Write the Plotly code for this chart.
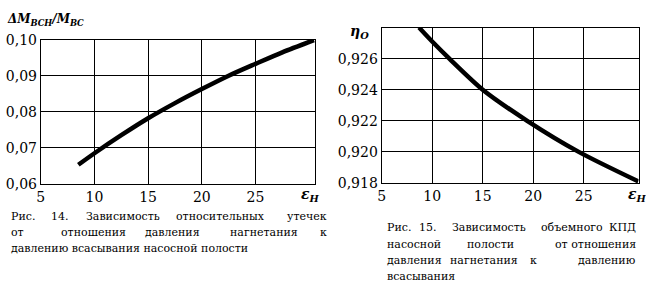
import plotly.graph_objects as go

W, H = 646, 294

# ---- data ----
eps_left = [8.5, 10, 12.5, 15, 17.5, 20, 22.5, 25, 27.5, 30.45]
leak_ratio = [0.0653, 0.0685, 0.0735, 0.0782, 0.0824, 0.0863, 0.0900, 0.0933, 0.0965, 0.0999]

eps_right = [8.7, 10, 11.7, 15, 19.4, 24.5, 30.4]
eta_o = [0.9280, 0.9271, 0.9260, 0.9240, 0.9220, 0.9200, 0.9181]

x_tickvals = [5, 10, 15, 20, 25]
x_ticktext = ["5", "10", "15", "20", "25"]
left_y_tickvals = [0.06, 0.07, 0.08, 0.09, 0.10]
left_y_ticktext = ["0,06", "0,07", "0,08", "0,09", "0,10"]
right_y_tickvals = [0.918, 0.920, 0.922, 0.924, 0.926]
right_y_ticktext = ["0,918", "0,920", "0,922", "0,924", "0,926"]

left_caption = [
    ["Рис.", "14.", "Зависимость", "относительных", "утечек"],
    ["от", "отношения", "давления", "нагнетания", "к"],
    ["давлению всасывания насосной полости"],
]
right_caption = [
    ["Рис.", "15.", "Зависимость", "объемного", "КПД"],
    ["насосной", "полости", "от отношения"],
    ["давления", "нагнетания", "к", "давлению"],
    ["всасывания"],
]

# ---- layout helpers ----
def px(x):
    return x / W

def py(y):
    return 1 - y / H

FONT = "DejaVu Serif"
CAP_SIZE = 11

fig = go.Figure()
fig.add_trace(go.Scatter(x=eps_left, y=leak_ratio, mode="lines", xaxis="x", yaxis="y",
                         line=dict(color="black", width=4.5, shape="spline", smoothing=0.8),
                         showlegend=False, hoverinfo="skip"))
fig.add_trace(go.Scatter(x=eps_right, y=eta_o, mode="lines", xaxis="x2", yaxis="y2",
                         line=dict(color="black", width=4.5, shape="spline", smoothing=0.8),
                         showlegend=False, hoverinfo="skip"))

axis_common = dict(showline=True, mirror=True, linecolor="black", linewidth=1,
                   showgrid=True, gridcolor="black", gridwidth=1, zeroline=False,
                   ticks="", tickfont=dict(family=FONT, size=14, color="black"),
                   fixedrange=True)

fig.update_layout(
    width=W, height=H, autosize=False,
    margin=dict(l=0, r=0, t=0, b=0),
    paper_bgcolor="white", plot_bgcolor="white",
    font=dict(family=FONT, color="black"),
    xaxis=dict(domain=[px(37), px(313)], range=[5, 30.55], tickvals=x_tickvals,
               ticktext=x_ticktext, anchor="y", **axis_common),
    yaxis=dict(domain=[py(186), py(33.5)], range=[0.06, 0.10], tickvals=left_y_tickvals,
               ticktext=left_y_ticktext, anchor="x", **axis_common),
    xaxis2=dict(domain=[px(380), px(638.5)], range=[5, 30.42], tickvals=x_tickvals,
                ticktext=x_ticktext, anchor="y2", **axis_common),
    yaxis2=dict(domain=[py(185), py(20.7)], range=[0.918, 0.928], tickvals=right_y_tickvals,
                ticktext=right_y_ticktext, anchor="x2", **axis_common),
)

ann = []
def label(text, x, y, size=13, xanchor="left"):
    ann.append(dict(text=text, x=px(x), y=py(y), xref="paper", yref="paper",
                    xanchor=xanchor, yanchor="middle", showarrow=False,
                    font=dict(family=FONT, size=size, color="black")))

label("<b><i>ΔM<sub>ВСН</sub>/M<sub>ВС</sub></i></b>", 1, 13, size=12)
label("<b><i>η<sub>O</sub></i></b>", 346, 25, size=14)
label("<b><i>ε<sub>Н</sub></i></b>", 297, 198, size=14)
label("<b><i>ε<sub>Н</sub></i></b>", 626, 198, size=14)

# each word: (x, anchor) — 'l' = left edge, 'c' = centre, 'r' = right edge
ANCH = {"l": "left", "c": "center", "r": "right"}
def caption(lines, positions, ys):
    for words, pos, yy in zip(lines, positions, ys):
        for w, (xx, a) in zip(words, pos):
            label(w, xx, yy, size=CAP_SIZE, xanchor=ANCH[a])

left_pos = [
    [(5, "l"), (56, "c"), (120, "c"), (218, "c"), (327, "r")],
    [(5, "l"), (90, "c"), (170, "c"), (262, "c"), (327, "r")],
    [(5, "l")],
]
caption(left_caption, left_pos, [220, 237, 254])

right_pos = [
    [(383, "l"), (427, "c"), (488, "c"), (572, "c"), (638, "r")],
    [(383, "l"), (490, "c"), (638, "r")],
    [(383, "l"), (483, "c"), (533, "c"), (638, "r")],
    [(383, "l")],
]
caption(right_caption, right_pos, [232, 250, 267, 284])

fig.update_layout(annotations=ann)
fig.write_html("out.html")
